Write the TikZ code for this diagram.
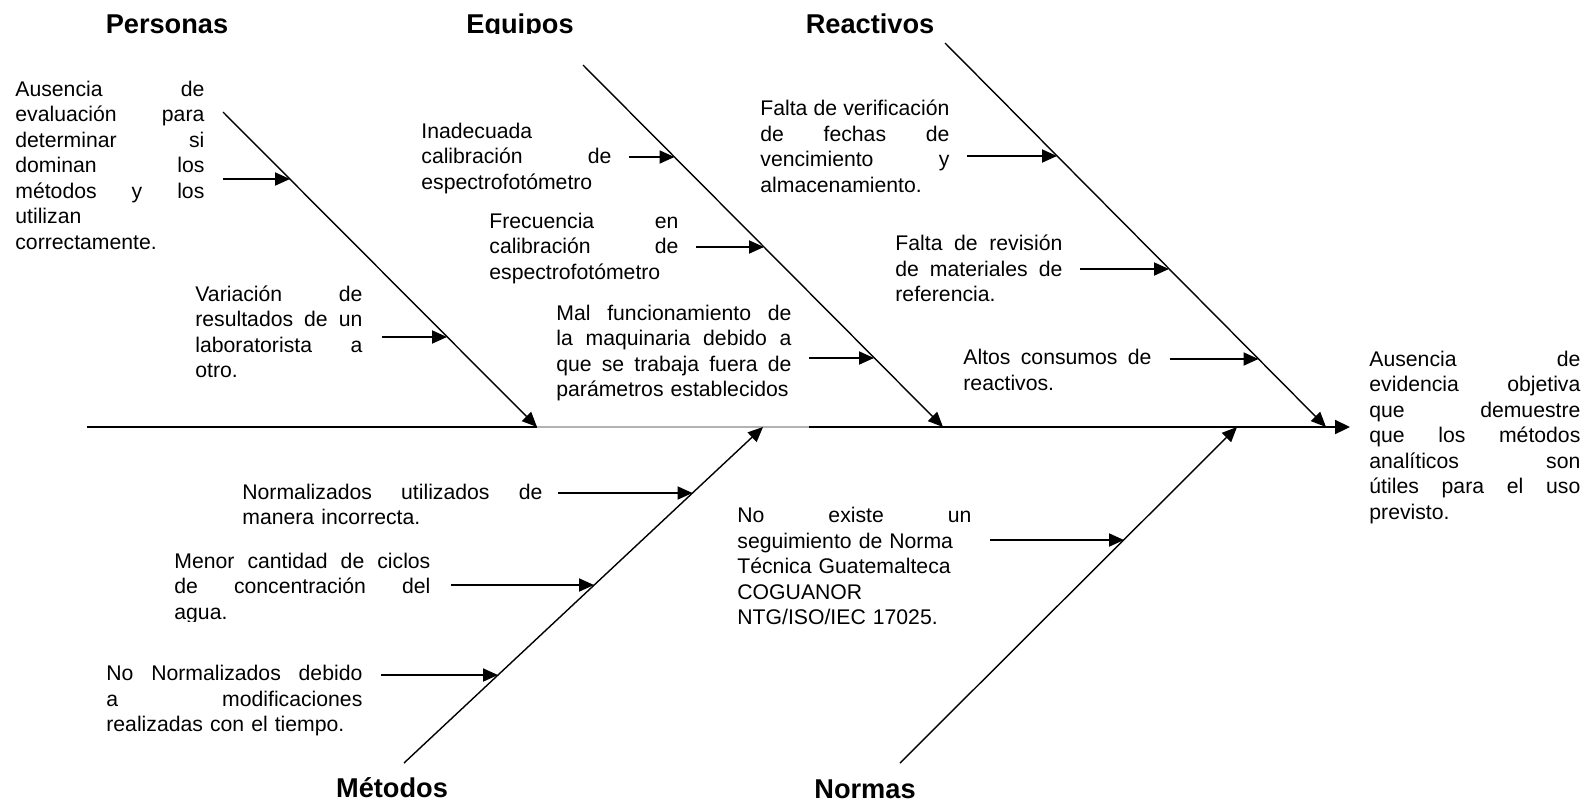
\documentclass[tikz,border=0pt]{standalone}
\usepackage{fontspec}
\setmainfont{Liberation Sans}
\usetikzlibrary{arrows.meta}
\newcommand{\tw}{100pt}
\newcommand{\jl}[1]{\leavevmode\hbox to \tw{\spaceskip=0.28em plus 1fill\relax #1}}
\begin{document}
\begin{tikzpicture}[x=0.5pt,y=-0.5pt,
  txt/.style={anchor=base west, inner sep=0pt, align=left, text width=#1,
    execute at begin node={\renewcommand{\tw}{#1}},
    font=\fontsize{10.6pt}{12.75pt}\selectfont},
  ttl/.style={anchor=base, inner sep=0pt, font=\fontsize{13.6pt}{16pt}\selectfont\bfseries},
  bone/.style={line width=0.7pt, -{Triangle[length=7.5pt,width=6.5pt]}},
  cause/.style={line width=0.95pt, -{Triangle[length=7.5pt,width=6.5pt]}},
  spine/.style={line width=1.1pt}]
\useasboundingbox (0,0) rectangle (1596,804);

% titles
\node[ttl] (personas) at (167,33) {Personas};
\begin{scope}
  \clip (0,0) rectangle (1596,33.5);
  \node[ttl] (equipos) at (520,33) {Equipos};
\end{scope}
\node[ttl] (reactivos) at (870,33) {Reactivos};
\node[ttl] (metodos) at (392,797) {Métodos};
\node[ttl] (normas) at (865,798) {Normas};

% bone coordinates
\coordinate (P0) at (223,112); \coordinate (P1) at (537,427);
\coordinate (E0) at (583,65);  \coordinate (E1) at (943,427);
\coordinate (R0) at (945,43);  \coordinate (R1) at (1326,427);
\coordinate (M0) at (404,763); \coordinate (M1) at (763,427);
\coordinate (N0) at (900,763); \coordinate (N1) at (1237,427);
\coordinate (S0) at (87,427);  \coordinate (S1) at (809,427);
\coordinate (S2) at (1350,427);

% spine
\draw[spine] (S0) -- (P1);
\draw[gray!60, line width=0.6pt] (P1) -- (S1);
\draw[spine, -{Triangle[length=7.5pt,width=7pt]}] (S1) -- (S2);

% bones
\draw[bone] (P0) -- (P1);
\draw[bone] (E0) -- (E1);
\draw[bone] (R0) -- (R1);
\draw[bone] (M0) -- (M1);
\draw[bone] (N0) -- (N1);

% effect
\node[txt=105.5pt] (effect) at (1369,366)
  {\jl{Ausencia de}\\ \jl{evidencia objetiva}\\ \jl{que demuestre}\\ \jl{que los métodos}\\ \jl{analíticos son}\\ \jl{útiles para el uso}\\ previsto.};

% Personas causes
\node[txt=94.5pt] (c1) at (15,96)
  {\jl{Ausencia de}\\ \jl{evaluación para}\\ \jl{determinar si}\\ \jl{dominan los}\\ \jl{métodos y los}\\ utilizan\\ correctamente.};
\node[txt=83.5pt] (c2) at (195,301)
  {\jl{Variación de}\\ \jl{resultados de un}\\ \jl{laboratorista a}\\ otro.};

% Equipos causes
\node[txt=95pt] (c3) at (421,138)
  {Inadecuada\\ \jl{calibración de}\\ espectrofotómetro};
\node[txt=94.5pt] (c4) at (489,228)
  {\jl{Frecuencia en}\\ \jl{calibración de}\\ espectrofotómetro};
\node[txt=117.5pt] (c5) at (556,320)
  {\jl{Mal funcionamiento de}\\ \jl{la maquinaria debido a}\\ \jl{que se trabaja fuera de}\\ parámetros establecidos};

% Reactivos causes
\node[txt=94.5pt] (c6) at (760,115.5)
  {\jl{Falta de verificación}\\ \jl{de fechas de}\\ \jl{vencimiento y}\\ almacenamiento.};
\node[txt=83.5pt] (c7) at (895,250.5)
  {\jl{Falta de revisión}\\ \jl{de materiales de}\\ referencia.};
\node[txt=94pt] (c8) at (963,364.5)
  {\jl{Altos consumos de}\\ reactivos.};

% Metodos causes
\node[txt=150pt] (c9) at (242,499)
  {\jl{Normalizados utilizados de}\\ manera incorrecta.};
\begin{scope}
  \clip (0,0) rectangle (1596,621);
  \node[txt=128pt] (c10) at (174,568)
    {\jl{Menor cantidad de ciclos}\\ \jl{de concentración del}\\ agua.};
\end{scope}
\node[txt=128pt] (c11) at (106,680.5)
  {\jl{No Normalizados debido}\\ \jl{a modificaciones}\\ realizadas con el tiempo.};

% Normas cause
\node[txt=117pt] (c12) at (737,522.5)
  {\jl{No existe un}\\ seguimiento de Norma\\ Técnica Guatemalteca\\ COGUANOR\\ NTG/ISO/IEC 17025.};

% cause arrows
\coordinate (a1) at (223,179);  \coordinate (t1) at (290,179);
\coordinate (a2) at (382,337);  \coordinate (t2) at (447,337);
\coordinate (a3) at (629,157);  \coordinate (t3) at (674.5,157);
\coordinate (a4) at (696,247);  \coordinate (t4) at (764,247);
\coordinate (a5) at (809,358);  \coordinate (t5) at (874,358);
\coordinate (a6) at (967,156);  \coordinate (t6) at (1057,156);
\coordinate (a7) at (1080,269); \coordinate (t7) at (1169,269);
\coordinate (a8) at (1170,359); \coordinate (t8) at (1258.5,359);
\coordinate (a9) at (558,493);  \coordinate (t9) at (692.5,493);
\coordinate (a10) at (451,585); \coordinate (t10) at (594,585);
\coordinate (a11) at (381,675); \coordinate (t11) at (498,675);
\coordinate (a12) at (990,540); \coordinate (t12) at (1124,540);
\foreach \i in {1,...,12} { \draw[cause] (a\i) -- (t\i); }
\end{tikzpicture}
\end{document}
